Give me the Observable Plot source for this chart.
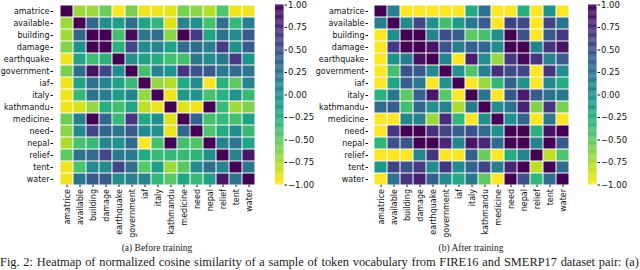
<!DOCTYPE html>
<html><head><meta charset="utf-8">
<script src="https://cdn.jsdelivr.net/npm/d3@7"></script>
<script src="https://cdn.jsdelivr.net/npm/@observablehq/plot@0.6"></script>
<style>
body{margin:0;background:#fff}
#root{position:relative;width:640px;height:270px;overflow:hidden;background:#fff}
.abs{position:absolute}
.sub{position:absolute;font-family:"Liberation Serif",serif;font-size:9.5px;color:#222;white-space:nowrap;transform:translateX(-50%);line-height:1}
.fig{position:absolute;left:0px;top:256px;width:639px;font-family:"Liberation Serif",serif;font-size:12.4px;color:#222;white-space:nowrap;line-height:1;text-align:justify;text-align-last:justify}
</style></head>
<body><div id="root"></div>
<script>
const labels = ["amatrice","available","building","damage","earthquake","government","iaf","italy","kathmandu","medicine","need","nepal","relief","tent","water"];

const before = [
  [1, -0.7, -0.7, -0.55, -1, -0.6, -0.95, -0.95, -0.92, -0.6, -0.65, -0.78, -0.45, -0.95, -0.95],
  [-0.7, 1, 0.35, 0.02, -0.12, 0.28, -0.17, -0.32, -0.9, 0.1, 0.0, -0.4, 0.28, -0.32, 0.15],
  [-0.72, 0.35, 1, 1, -0.4, 0.95, 0.22, 0.28, -0.65, 1, 0.65, -0.18, 0.25, 0.05, 0.45],
  [-0.62, 0.0, 1, 1, -0.27, 0.58, 0.05, 0.1, -0.15, 0.3, 0.3, 0.15, 0.65, 0.0, 0.42],
  [-0.95, -0.18, -0.38, -0.28, 1, 0.0, -0.15, -0.22, -0.4, -0.4, 0.2, 0.02, 0.2, 0.65, -0.05],
  [-0.6, 0.3, 0.92, 0.6, 0.02, 1, -0.4, 0.1, -0.02, 0.7, 0.47, 0.45, 0.2, 0.3, 0.18],
  [-0.95, -0.18, 0.25, 0.07, -0.13, -0.35, 1, -0.68, -0.78, -0.2, 0.03, -1, -0.27, -0.5, 0.1],
  [-0.95, -0.35, 0.25, 0.15, -0.1, 0.08, -0.68, 1, -0.95, -0.08, -0.05, -0.42, -0.27, 0.0, -0.35],
  [-0.95, -0.88, -0.68, -0.25, -0.4, -0.17, -0.8, -0.95, 1, -0.9, -0.95, 1, -0.35, -0.72, -0.62],
  [-0.55, 0.15, 1, 0.35, -0.35, 0.7, -0.2, 0.0, -0.9, 1, 0.35, -0.4, -0.35, -0.4, -0.15],
  [-0.65, 0.05, 0.6, 0.35, 0.2, 0.45, 0.05, 0.0, -0.95, 0.32, 1, -0.45, -0.22, 0.02, -0.35],
  [-0.75, -0.42, -0.35, 0.08, -0.03, 0.32, -1, -0.42, 1, -0.4, -0.45, 1, 0.1, 0.22, -0.17],
  [-0.5, 0.25, 0.3, 0.58, 0.18, 0.18, -0.22, -0.35, -0.32, -0.35, -0.3, 0.0, 1, 0.1, 0.88],
  [-0.95, -0.43, 0.05, 0.05, 0.6, 0.28, -0.48, -0.12, -0.7, -0.48, 0.05, 0.28, 0.1, 1, 0.2],
  [-0.95, 0.22, 0.45, 0.45, 0.02, 0.15, 0.1, -0.32, -0.48, -0.18, -0.35, -0.15, 0.88, 0.22, 1]
];

const after = [
  [1, 0.12, -1, -1, -1, -1, -1, -0.22, 0.25, -1, -1, -0.25, -1, -0.02, -1],
  [0.15, 1, 0.05, 0.58, 0.0, -0.4, -0.08, 0.2, 0.42, -1, 0.62, 0.55, -1, 0.58, 0.22],
  [-1, 0.03, 1, 1, 0.1, 0.52, 0.42, -0.5, -0.4, 0.03, 1, 0.5, -1, 0.45, 0.68],
  [-1, 0.65, 1, 1, 0.9, 0.5, 0.17, 0.37, 0.35, 0.05, 1, 1, 0.1, 0.7, 0.9],
  [-1, 0.0, 0.15, 0.9, 1, 0.1, -1, 0.85, 0.0, -0.68, 0.68, 0.95, 0.68, 0.1, 0.42],
  [-1, -0.4, 0.5, 0.45, 0.05, 1, 0.0, -0.45, 0.15, 0.72, 0.55, 0.6, -1, 0.7, 0.03],
  [-1, -0.18, 0.4, 0.17, -1, 0.0, 1, -1, -0.7, -0.32, 0.38, 0.0, -1, 0.08, -0.22],
  [-0.28, 0.2, -0.5, 0.38, 0.88, -0.48, -1, 1, 0.22, -1, 0.48, 0.85, 0.42, 0.25, 0.2],
  [0.3, 0.42, -0.4, 0.35, 0.0, 0.12, -0.75, 0.2, 1, 0.0, 0.25, 0.82, -0.62, 0.7, -0.6],
  [-1, -1, 0.08, 0.12, -0.7, 0.75, -0.32, -1, 0.0, 1, 0.03, 0.35, -1, 0.2, -1],
  [-1, 0.68, 1, 1, 0.72, 0.6, 0.4, 0.5, 0.3, 0.0, 1, 1, -0.28, 0.9, 1],
  [-0.3, 0.5, 0.48, 1, 1, 0.78, 0.1, 0.88, 0.78, 0.32, 1, 1, 0.1, 1, 0.45],
  [-1, -1, -1, 0.08, 0.7, -1, -1, 0.4, -0.55, -1, -0.22, 0.1, 1, -0.8, -0.45],
  [-0.05, 0.6, 0.5, 0.65, 0.05, 0.7, 0.05, 0.38, 0.58, 0.15, 0.8, 1, -0.8, 1, 0.3],
  [-1, 0.25, 0.7, 0.85, 0.4, 0.05, -0.2, 0.2, -0.5, -1, 1, 0.5, -0.32, 0.28, 1]
];

const colorTicks = [1, 0.75, 0.5, 0.25, 0, -0.25, -0.5, -0.75, -1];
const subcaptions = ["(a) Before training", "(b) After training"];
const caption = "Fig. 2: Heatmap of normalized cosine similarity of a sample of token vocabulary from FIRE16 and SMERP17 dataset pair: (a)";

const colorScale = {type: "linear", scheme: "viridis", reverse: true, domain: [-1, 1]};
const TOP = 4.5, H = 180;

function heat(matrix, w) {
  const data = matrix.flatMap((row, i) => row.map((v, j) => ({row: labels[i], col: labels[j], v})));
  return Plot.plot({
    width: 53 + w + 6, height: TOP + H + 56,
    marginLeft: 53, marginRight: 6, marginTop: TOP, marginBottom: 56,
    style: {fontFamily: "DejaVu Sans", fontSize: "8px", color: "#111", background: "transparent", overflow: "visible"},
    x: {domain: labels, padding: 0, label: null, tickRotate: -90, tickSize: 2.5, tickPadding: 1.5},
    y: {domain: labels, padding: 0, label: null, tickSize: 2.5, tickPadding: 1.5},
    color: colorScale,
    marks: [Plot.cell(data, {x: "col", y: "row", fill: "v", inset: 0.5})]
  });
}

function cbar() {
  const steps = d3.range(-1, 1, 0.01);
  return Plot.plot({
    width: 8.5 + 40, height: TOP + H + 10,
    marginLeft: 0, marginRight: 40, marginTop: TOP, marginBottom: 10,
    style: {fontFamily: "DejaVu Sans", fontSize: "8.5px", color: "#111", background: "transparent", overflow: "visible"},
    x: {domain: [0, 1], axis: null},
    y: {domain: [-1, 1], axis: null},
    color: colorScale,
    marks: [
      Plot.rect(steps, {x1: 0, x2: 1, y1: d => d, y2: d => Math.min(1, d + 0.012), fill: d => d + 0.005}),
      Plot.axisY(colorTicks, {anchor: "right", tickFormat: d3.format(".2f"), tickSize: 2.5, tickPadding: 1.5, label: null})
    ]
  });
}

const root = document.getElementById("root");
function place(el, left, top) {
  el.classList.add("abs");
  el.style.left = left + "px";
  el.style.top = top + "px";
  root.appendChild(el);
}
place(heat(before, 209), 0, 0);
place(cbar(), 275, 0);
place(heat(after, 207), 315, 0);
place(cbar(), 588, 0);

[[subcaptions[0], 157], [subcaptions[1], 471]].forEach(([t, cx]) => {
  const d = document.createElement("div");
  d.className = "sub";
  d.textContent = t;
  d.style.left = cx + "px";
  d.style.top = "244px";
  root.appendChild(d);
});
const f = document.createElement("div");
f.className = "fig";
f.textContent = caption;
root.appendChild(f);
</script>
</body></html>
